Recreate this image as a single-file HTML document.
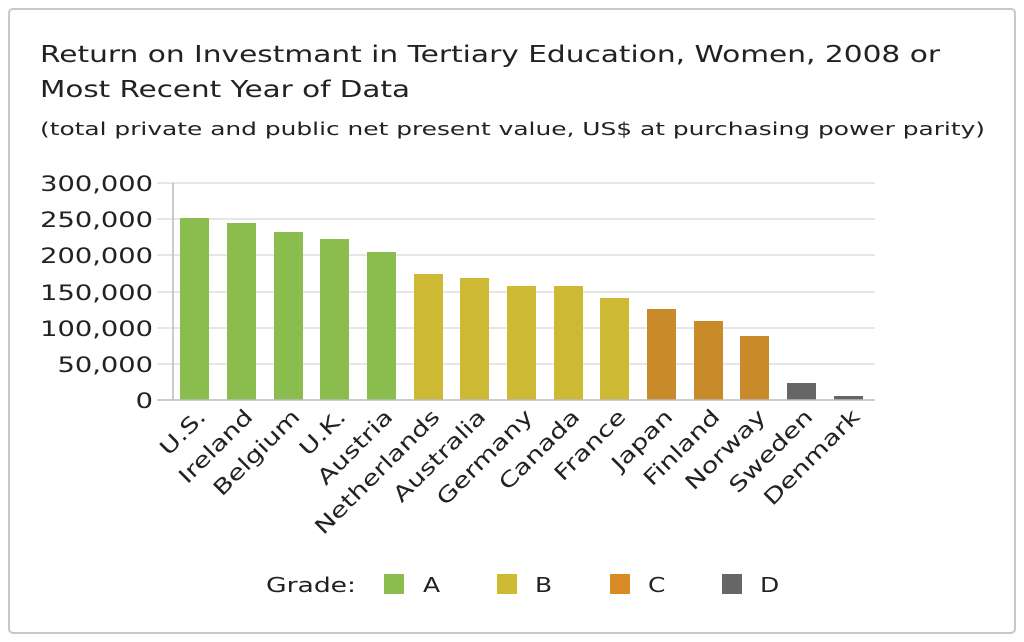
<!DOCTYPE html>
<html><head><style>
html,body{margin:0;padding:0;background:#fff;}
svg{display:block;font-family:"DejaVu Sans","Liberation Sans",sans-serif;}
</style></head><body>
<svg width="1024" height="642" viewBox="0 0 1024 642">
<rect x="9" y="9" width="1006" height="624" rx="4" fill="#fff" stroke="#c8c8c8" stroke-width="2"/>
<text x="40" y="62" font-size="23" fill="#222" textLength="900" lengthAdjust="spacingAndGlyphs">Return on Investmant in Tertiary Education, Women, 2008 or</text>
<text x="40" y="97" font-size="23" fill="#222" textLength="370" lengthAdjust="spacingAndGlyphs">Most Recent Year of Data</text>
<text x="40" y="135" font-size="17.5" fill="#222" textLength="945" lengthAdjust="spacingAndGlyphs">(total private and public net present value, US$ at purchasing power parity)</text>
<g stroke="#dedede" stroke-width="1.5">
<line x1="157" x2="875" y1="183" y2="183"/><line x1="157" x2="875" y1="219" y2="219"/>
<line x1="157" x2="875" y1="255" y2="255"/><line x1="157" x2="875" y1="292" y2="292"/>
<line x1="157" x2="875" y1="328" y2="328"/><line x1="157" x2="875" y1="364" y2="364"/>
</g>
<g font-size="21" fill="#222" text-anchor="end">
<text transform="translate(153,191) scale(1.3,1)">300,000</text>
<text transform="translate(153,227) scale(1.3,1)">250,000</text>
<text transform="translate(153,263) scale(1.3,1)">200,000</text>
<text transform="translate(153,300) scale(1.3,1)">150,000</text>
<text transform="translate(153,336) scale(1.3,1)">100,000</text>
<text transform="translate(153,372) scale(1.3,1)">50,000</text>
<text transform="translate(153,408) scale(1.3,1)">0</text>
</g>
<g>
<rect x="180" y="218" width="29" height="182" fill="#8bbd4e"/>
<rect x="227" y="223" width="29" height="177" fill="#8bbd4e"/>
<rect x="274" y="232" width="29" height="168" fill="#8bbd4e"/>
<rect x="320" y="239" width="29" height="161" fill="#8bbd4e"/>
<rect x="367" y="252" width="29" height="148" fill="#8bbd4e"/>
<rect x="414" y="274" width="29" height="126" fill="#cdb934"/>
<rect x="460" y="278" width="29" height="122" fill="#cdb934"/>
<rect x="507" y="286" width="29" height="114" fill="#cdb934"/>
<rect x="554" y="286" width="29" height="114" fill="#cdb934"/>
<rect x="600" y="298" width="29" height="102" fill="#cdb934"/>
<rect x="647" y="309" width="29" height="91" fill="#c98b2a"/>
<rect x="694" y="321" width="29" height="79" fill="#c98b2a"/>
<rect x="740" y="336" width="29" height="64" fill="#c98b2a"/>
<rect x="787" y="383" width="29" height="17" fill="#666"/>
<rect x="834" y="396" width="29" height="4" fill="#666"/>
</g>
<line x1="157" x2="875" y1="400" y2="400" stroke="#bbb" stroke-width="1.5"/>
<line x1="173" x2="173" y1="183" y2="400" stroke="#bbb" stroke-width="1.5"/>
<g font-size="21" fill="#222" text-anchor="end">
<text transform="translate(207,418) rotate(-45) scale(1.3,1)">U.S.</text>
<text transform="translate(254,418) rotate(-45) scale(1.3,1)">Ireland</text>
<text transform="translate(301,418) rotate(-45) scale(1.3,1)">Belgium</text>
<text transform="translate(347,418) rotate(-45) scale(1.3,1)">U.K.</text>
<text transform="translate(394,418) rotate(-45) scale(1.3,1)">Austria</text>
<text transform="translate(441,418) rotate(-45) scale(1.3,1)">Netherlands</text>
<text transform="translate(487,418) rotate(-45) scale(1.3,1)">Australia</text>
<text transform="translate(534,418) rotate(-45) scale(1.3,1)">Germany</text>
<text transform="translate(581,418) rotate(-45) scale(1.3,1)">Canada</text>
<text transform="translate(627,418) rotate(-45) scale(1.3,1)">France</text>
<text transform="translate(674,418) rotate(-45) scale(1.3,1)">Japan</text>
<text transform="translate(721,418) rotate(-45) scale(1.3,1)">Finland</text>
<text transform="translate(767,418) rotate(-45) scale(1.3,1)">Norway</text>
<text transform="translate(814,418) rotate(-45) scale(1.3,1)">Sweden</text>
<text transform="translate(861,418) rotate(-45) scale(1.3,1)">Denmark</text>
</g>
<g font-size="20" fill="#222">
<text transform="translate(266,592) scale(1.33,1)">Grade:</text>
<rect x="384" y="574" width="20" height="20" fill="#8bbd4e"/><text transform="translate(423,592) scale(1.25,1)">A</text>
<rect x="497" y="574" width="20" height="20" fill="#cdb934"/><text transform="translate(535,592) scale(1.25,1)">B</text>
<rect x="610" y="574" width="20" height="20" fill="#d88a24"/><text transform="translate(648,592) scale(1.25,1)">C</text>
<rect x="722" y="574" width="20" height="20" fill="#666"/><text transform="translate(760,592) scale(1.25,1)">D</text>
</g>
</svg>
</body></html>
